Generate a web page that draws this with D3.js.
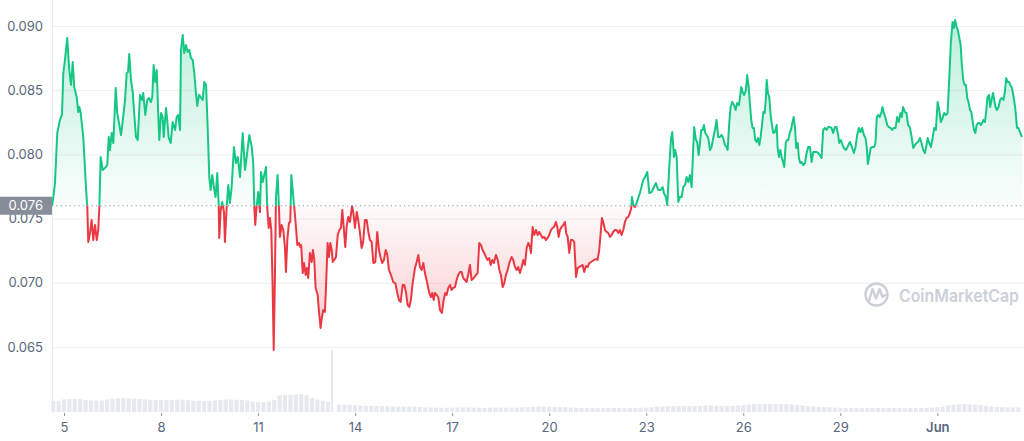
<!DOCTYPE html>
<html>
<head>
<meta charset="utf-8">
<script src="https://cdn.jsdelivr.net/npm/d3@7"></script>
<style>
  html, body { margin: 0; padding: 0; background: #ffffff; }
  svg { display: block; font-family: Inter, "Noto Sans", sans-serif; }
</style>
</head>
<body>
<svg id="chart" width="1024" height="441"></svg>
<script>
// ---------- DATA ----------
const startDate = "2022-05-05T00:00:00Z";      // hour 0 of the series
const basePrice = 0.076;                         // opening / reference price
const yTicks = [0.065, 0.070, 0.075, 0.080, 0.085, 0.090];
const xTickDates = ["2022-05-05","2022-05-08","2022-05-11","2022-05-14","2022-05-17","2022-05-20","2022-05-23","2022-05-26","2022-05-29","2022-06-01"];
const xTickLabels = ["5","8","11","14","17","20","23","26","29","Jun"];
const xDomainHours = [-8.9, 712.3];

// [hours since startDate, price in USD]
const pricePoints = [
[-8.9,0.07600],[-7.9,0.07668],[-6.7,0.07777],[-5.0,0.08167],[-3.0,0.08268],[-1.5,0.08307],[-0.5,0.08634],[0.7,0.08735],[2.4,0.08907],[3.9,0.08657],
[5.2,0.08541],[6.5,0.08720],[7.6,0.08525],[9.4,0.08447],[10.6,0.08330],[11.4,0.08369],[12.4,0.08322],[14.3,0.08136],[16.3,0.07746],[17.3,0.07583],
[18.0,0.07318],[19.3,0.07388],[20.5,0.07489],[21.7,0.07333],[23.0,0.07450],[24.3,0.07333],[25.4,0.07411],[26.2,0.07583],[27.2,0.07980],[28.7,0.07879],
[30.4,0.07894],[32.1,0.07917],[33.2,0.08136],[34.1,0.08034],[35.4,0.08167],[36.6,0.08089],[38.4,0.08517],[39.5,0.08322],[40.8,0.08245],[42.3,0.08151],
[43.5,0.08252],[45.3,0.08424],[46.5,0.08634],[47.5,0.08642],[48.4,0.08782],[49.7,0.08579],[51.0,0.08486],[51.9,0.08346],[53.4,0.08136],[54.7,0.08112],
[56.4,0.08463],[57.9,0.08424],[58.8,0.08478],[60.3,0.08307],[61.8,0.08424],[63.1,0.08439],[64.5,0.08408],[65.5,0.08447],[66.5,0.08696],[67.7,0.08564],
[68.8,0.08657],[70.0,0.08291],[70.7,0.08112],[72.0,0.08322],[73.2,0.08291],[74.0,0.08136],[75.7,0.08361],[76.6,0.08268],[77.7,0.08128],[79.2,0.08089],
[80.6,0.08252],[82.4,0.08190],[83.6,0.08291],[84.8,0.08307],[86.1,0.08190],[86.8,0.08813],[88.1,0.08930],[89.2,0.08790],[90.5,0.08852],[91.8,0.08798],
[93.0,0.08813],[94.2,0.08751],[95.5,0.08735],[96.7,0.08634],[97.9,0.08478],[98.9,0.08377],[100.2,0.08463],[101.4,0.08447],[102.9,0.08424],[104.1,0.08564],
[105.4,0.08541],[106.6,0.08213],[107.8,0.07824],[108.8,0.07723],[110.0,0.07840],[111.3,0.07738],[112.5,0.07668],[113.7,0.07855],[114.8,0.07606],[115.2,0.07349],
[116.3,0.07567],[117.4,0.07629],[118.7,0.07551],[119.4,0.07318],[120.7,0.07590],[121.9,0.07762],
[123.1,0.07622],[124.4,0.07746],[126.1,0.08058],[127.6,0.07933],[128.9,0.07980],[130.6,0.07824],[132.6,0.08167],[134.3,0.07879],[136.0,0.08019],[137.5,0.08151],
[139.3,0.08058],[140.4,0.07933],[141.2,0.07590],[141.9,0.07450],[142.9,0.07590],[144.1,0.07707],[145.4,0.07551],[146.2,0.07863],[147.4,0.07785],[148.6,0.07840],
[149.9,0.07902],[150.8,0.07583],[151.9,0.07427],[152.8,0.07505],[153.8,0.07411],[154.8,0.06967],[155.6,0.06477],[156.5,0.07045],[157.3,0.07668],[158.5,0.07840],
[159.5,0.07590],[160.2,0.07357],[161.5,0.07450],[162.7,0.07411],[163.9,0.07279],[164.7,0.07084],[165.7,0.07333],[166.9,0.07466],[167.9,0.07474],[168.7,0.07840],
[169.9,0.07699],[170.9,0.07583],[172.1,0.07435],[173.1,0.07294],[174.3,0.07310],[175.3,0.07279],[176.0,0.07294],[177.1,0.07076],[178.1,0.07154],[179.3,0.07061],
[180.3,0.07115],[181.2,0.07037],[182.5,0.07232],[183.8,0.07162],[184.7,0.07255],[185.7,0.07178],[186.7,0.06960],[188.2,0.06905],[189.2,0.06773],[190.4,0.06648],
[191.4,0.06734],[192.4,0.06788],[193.6,0.06773],[194.4,0.06967],[195.6,0.07310],[196.6,0.07201],[197.6,0.07310],[198.6,0.07255],[199.4,0.07162],[200.5,0.07178],
[201.8,0.07201],[203.1,0.07372],[204.3,0.07411],[205.5,0.07427],[206.5,0.07567],[207.7,0.07411],[208.7,0.07279],[209.7,0.07435],[210.9,0.07513],[212.2,0.07474],
[213.7,0.07598],[214.6,0.07551],[215.9,0.07427],[217.2,0.07551],[218.3,0.07489],[219.6,0.07388],[220.8,0.07271],[222.0,0.07318],[223.3,0.07489],[224.6,0.07489],
[225.8,0.07396],[227.0,0.07333],[228.3,0.07318],[229.5,0.07154],[231.0,0.07162],[232.4,0.07396],[233.7,0.07255],[235.0,0.07193],[236.1,0.07154],[237.4,0.07178],
[238.7,0.07255],[239.9,0.07217],[241.1,0.07100],[242.6,0.07061],[244.3,0.07006],[245.8,0.06998],[247.3,0.06921],[248.5,0.06866],[249.8,0.06851],[251.3,0.06983],
[252.5,0.06983],[253.7,0.06928],[255.0,0.06827],[256.2,0.06812],[257.4,0.06866],[258.7,0.06998],[260.4,0.07115],[261.7,0.07162],[262.9,0.07217],[264.1,0.07123],
[265.4,0.07100],[266.6,0.07154],[267.8,0.07076],[269.5,0.06998],[271.0,0.06921],[272.3,0.06889],[273.2,0.06921],[274.3,0.06866],[275.2,0.06921],[276.5,0.06905],
[277.7,0.06889],[279.0,0.06788],[280.4,0.06765],[281.7,0.06866],[282.9,0.06921],[283.9,0.06905],[285.1,0.06960],[286.4,0.06983],[287.6,0.06944],[288.8,0.06960],
[290.1,0.06967],[291.3,0.07022],[292.5,0.07061],[293.8,0.07084],[295.0,0.07084],[296.2,0.07037],[297.5,0.07022],[298.7,0.07006],[299.9,0.07061],
[301.2,0.07139],[302.4,0.07022],[304.1,0.07037],[305.6,0.07061],[306.9,0.07076],[308.1,0.07310],[309.4,0.07294],[310.6,0.07255],[311.8,0.07232],[313.1,0.07201],
[314.3,0.07178],[315.5,0.07193],[316.6,0.07139],[317.8,0.07178],[319.0,0.07154],[320.5,0.07217],[321.8,0.07178],[323.0,0.07100],[324.2,0.07061],[325.5,0.06967],
[326.7,0.06998],[327.9,0.07061],[329.2,0.07100],[330.4,0.07154],[332.1,0.07201],[333.3,0.07178],[334.6,0.07123],[335.9,0.07100],[337.0,0.07123],[338.3,0.07076],
[339.6,0.07123],[340.8,0.07178],[342.0,0.07139],[343.3,0.07271],[344.5,0.07310],[345.7,0.07279],[346.5,0.07232],[347.7,0.07435],[348.9,0.07372],[350.2,0.07411],
[351.4,0.07372],[352.6,0.07396],[353.9,0.07372],[355.1,0.07349],[356.3,0.07357],[357.6,0.07333],[358.8,0.07349],[360.0,0.07372],[361.3,0.07411],[362.5,0.07427],
[363.7,0.07435],[365.0,0.07474],[366.0,0.07435],[367.0,0.07357],[368.0,0.07411],[369.2,0.07435],[370.4,0.07450],[371.7,0.07474],[372.6,0.07388],[373.7,0.07357],
[374.9,0.07232],[376.1,0.07333],[377.4,0.07333],[378.6,0.07318],[379.9,0.07045],[381.1,0.07115],[382.3,0.07123],[383.6,0.07131],[384.8,0.07139],[386.0,0.07084],
[387.3,0.07131],[388.5,0.07123],[389.7,0.07154],[391.0,0.07162],[392.2,0.07170],[393.4,0.07178],[394.7,0.07185],[395.9,0.07178],[397.1,0.07255],[398.2,0.07388],
[399.1,0.07505],[400.1,0.07474],[401.4,0.07411],[402.6,0.07396],[403.8,0.07388],[405.1,0.07357],[406.3,0.07372],[407.5,0.07396],[408.8,0.07411],[410.0,0.07411],
[411.3,0.07388],[412.5,0.07411],[413.7,0.07372],[415.0,0.07411],[416.2,0.07474],[417.5,0.07505],[418.7,0.07513],[419.9,0.07544],[420.9,0.07583],[421.4,0.07668],
[422.4,0.07606],[423.6,0.07590],[424.9,0.07622],[426.1,0.07660],
[427.3,0.07699],[429.8,0.07801],[431.1,0.07824],[432.8,0.07863],[434.3,0.07699],[436.0,0.07707],[437.7,0.07746],[439.2,0.07777],[440.9,0.07723],[442.7,0.07723],
[444.2,0.07746],[445.1,0.07699],[446.6,0.07668],[447.6,0.07606],[449.1,0.07902],[450.3,0.08112],[451.3,0.08174],[452.6,0.07980],[453.5,0.08034],[454.6,0.07980],
[455.8,0.07629],[457.0,0.07668],[458.3,0.07668],[459.5,0.07746],[460.8,0.07762],[462.0,0.07824],[463.2,0.07785],[464.4,0.07840],[465.7,0.07746],[466.9,0.08058],
[467.6,0.08213],[468.9,0.08112],[469.8,0.08097],[470.9,0.07995],[471.9,0.08089],[472.8,0.08190],[473.9,0.08190],[474.8,0.08229],[475.8,0.08167],[476.8,0.08151],
[478.0,0.08128],[479.3,0.08034],[480.5,0.08058],[481.7,0.08128],[483.0,0.08190],[484.2,0.08268],[485.4,0.08136],[486.7,0.08136],[487.9,0.08151],[489.1,0.08128],
[490.4,0.08073],[491.6,0.08058],[492.4,0.08034],[493.6,0.08245],[494.6,0.08369],[495.8,0.08408],[497.1,0.08385],[498.3,0.08346],[499.5,0.08400],[500.8,0.08385],
[501.5,0.08439],[502.5,0.08525],[503.5,0.08486],[504.7,0.08463],[506.0,0.08502],[506.9,0.08618],[508.0,0.08525],[508.9,0.08400],[509.9,0.08268],[510.9,0.08206],
[511.9,0.08206],[512.9,0.08112],[513.9,0.08097],[514.9,0.08128],[515.9,0.08073],[516.9,0.08136],[517.9,0.08229],[518.9,0.08330],[519.9,0.08322],[520.8,0.08439],
[521.4,0.08579],[522.3,0.08478],[523.3,0.08447],[524.3,0.08307],[525.3,0.08229],[526.3,0.08167],[527.5,0.08174],[528.8,0.08229],[529.5,0.08050],[530.5,0.07980],
[531.5,0.08034],[532.5,0.07980],[533.5,0.07941],[534.4,0.07902],[535.5,0.08089],[536.4,0.08112],[537.4,0.08112],[538.4,0.08167],[539.4,0.08190],[540.4,0.08245],
[541.4,0.08291],[542.4,0.08206],[543.3,0.08050],[544.4,0.08089],[545.3,0.07972],[546.3,0.07933],[547.3,0.07941],[548.5,0.07917],[549.8,0.07933],[551.0,0.08011],
[552.2,0.08058],[553.5,0.08058],[554.7,0.07941],[555.9,0.08019],[557.2,0.08019],[558.4,0.08019],[559.6,0.08011],[560.9,0.07995],[562.1,0.07972],[563.3,0.08190],
[564.6,0.08206],[565.8,0.08190],[567.0,0.08213],
[568.3,0.08213],[569.5,0.08206],[570.7,0.08167],[572.0,0.08213],[573.2,0.08213],[574.4,0.08151],[575.2,0.08089],[576.4,0.08112],[577.7,0.08073],[578.6,0.08050],
[580.1,0.08034],[581.4,0.08058],[583.1,0.08097],[584.6,0.08058],[586.1,0.08011],[587.3,0.08058],[588.5,0.08151],[589.8,0.08206],[591.0,0.08174],[592.2,0.08206],
[593.5,0.08151],[594.7,0.08128],[595.7,0.08050],[596.4,0.07925],[597.4,0.07980],[598.6,0.08050],[599.9,0.08058],[601.1,0.08058],[602.1,0.08089],[603.1,0.08291],
[604.1,0.08307],[605.3,0.08291],[606.6,0.08330],[607.3,0.08369],[608.3,0.08322],[609.6,0.08283],[610.8,0.08229],[612.0,0.08213],[613.3,0.08206],[614.5,0.08190],
[615.7,0.08206],[617.0,0.08206],[618.2,0.08291],[619.4,0.08252],[620.7,0.08322],[621.6,0.08291],[622.6,0.08369],[623.9,0.08330],[625.1,0.08322],[626.3,0.08229],
[627.6,0.08213],[628.9,0.08136],[630.1,0.08050],[631.4,0.08073],[632.6,0.08089],[633.8,0.08097],[635.1,0.08128],[636.3,0.08089],[637.5,0.08034],[638.8,0.08011],
[640.0,0.08073],[640.8,0.08128],[642.0,0.08089],[643.2,0.08058],[644.5,0.08128],[645.7,0.08206],[646.9,0.08190],[648.2,0.08408],[649.4,0.08346],[650.6,0.08252],
[651.9,0.08283],[653.1,0.08322],[654.3,0.08307],[655.6,0.08322],[656.8,0.08579],[658.0,0.08868],[659.3,0.09031],[660.2,0.08984],[661.2,0.09047],[662.3,0.08992],
[663.2,0.08969],[664.2,0.08914],[665.3,0.08852],[666.2,0.08696],[667.2,0.08579],[668.3,0.08541],[669.2,0.08541],[670.2,0.08439],[671.3,0.08400],[672.2,0.08346],
[673.2,0.08330],[674.3,0.08252],[675.2,0.08190],[676.2,0.08167],[677.2,0.08229],[678.2,0.08245],[679.2,0.08245],[680.3,0.08229],[681.2,0.08245],[682.2,0.08268],
[683.3,0.08252],[684.2,0.08330],[685.2,0.08447],[686.3,0.08463],[687.2,0.08369],[688.2,0.08424],[689.3,0.08478],[690.2,0.08424],[691.2,0.08369],[692.2,0.08346],
[693.4,0.08369],[694.6,0.08424],[695.9,0.08439],[697.1,0.08424],[698.1,0.08486],[699.1,0.08595],[700.1,0.08564],[701.2,0.08564],[702.1,0.08541],[703.4,0.08517],
[704.6,0.08447],[705.8,0.08361],[707.1,0.08206],[708.2,0.08206],[709.5,0.08167],[710.8,0.08136]
];

// 4-hour volume bars (USD millions), first bar at hour -8
const volumeStartHour = -8;
const volumeStepHours = 4;
const volumes = [
5.4,5.6,
6.3,6.5,6.6,6.4,6.0,
5.8,5.7,5.8,6.2,6.6,6.9,
7.0,6.9,6.7,
6.5,6.3,6.1,6.0,6.0,6.1,
6.0,6.2,6.1,5.9,5.7,
5.6,5.5,5.6,5.8,6.0,
6.2,6.3,6.1,6.0,5.8,
5.2,5.0,4.9,5.2,
6.0,8.3,8.5,8.6,8.7,9.0,8.4,
7.0,6.2,5.6,5.0,
31,
3.8,3.6,3.5,3.4,3.2,3.1,3.0,3.0,
2.9,2.9,2.8,2.8,2.7,2.7,2.6,2.5,
2.3,2.2,2.2,2.1,2.1,2.2,2.2,2.3,2.3,2.2,2.1,2.1,2.2,2.2,2.3,2.2,2.1,2.2,2.3,2.4,
2.6,2.7,2.7,2.6,2.6,2.5,2.4,2.3,
2.1,2.0,2.0,2.0,1.9,1.9,2.0,2.0,2.0,1.9,1.9,2.0,2.1,2.2,2.4,
2.7,2.8,2.9,2.9,3.0,3.0,2.9,3.0,3.1,3.2,3.3,3.2,3.1,3.0,3.0,3.2,3.4,
3.7,3.9,4.0,4.1,4.1,4.0,4.0,3.9,3.8,3.6,3.3,3.0,
2.8,2.6,2.5,2.4,2.2,
2.1,2.0,2.0,2.0,1.9,1.9,2.0,2.0,2.0,2.1,2.0,1.9,1.9,2.0,2.0,2.0,2.1,2.2,2.4,2.7,
3.3,3.7,3.9,3.9,3.8,3.7,3.5,3.1,
2.7,2.5,2.4,2.3,2.3,2.3
];

// ---------- CHART ----------
const W = 1024, H = 441;
const svg = d3.select("#chart");
const t0 = new Date(startDate).getTime();
const hourToDate = h => new Date(t0 + h * 3600e3);

const x = d3.scaleUtc()
  .domain(xDomainHours.map(hourToDate))
  .range([52, 1024]);
const y = d3.scaleLinear().domain([0.065, 0.090]).range([347, 26]);
const yVol = d3.scaleLinear().domain([0, 31]).range([412, 350]);

const GREEN = "#16c784", RED = "#ea3943";
const baseY = y(basePrice);

const defs = svg.append("defs");
const gG = defs.append("linearGradient").attr("id","gGreen").attr("gradientUnits","userSpaceOnUse")
  .attr("x1",0).attr("x2",0).attr("y1",y(0.090)).attr("y2",baseY);
gG.append("stop").attr("offset",0).attr("stop-color",GREEN).attr("stop-opacity",0.28);
gG.append("stop").attr("offset",1).attr("stop-color",GREEN).attr("stop-opacity",0.02);
const gR = defs.append("linearGradient").attr("id","gRed").attr("gradientUnits","userSpaceOnUse")
  .attr("x1",0).attr("x2",0).attr("y1",baseY).attr("y2",y(0.065));
gR.append("stop").attr("offset",0).attr("stop-color",RED).attr("stop-opacity",0.02);
gR.append("stop").attr("offset",1).attr("stop-color",RED).attr("stop-opacity",0.28);

defs.append("clipPath").attr("id","clipUp").append("rect")
  .attr("x",0).attr("y",0).attr("width",W).attr("height",baseY);
defs.append("clipPath").attr("id","clipDown").append("rect")
  .attr("x",0).attr("y",baseY).attr("width",W).attr("height",H-baseY);

// grid lines
const grid = svg.append("g").attr("transform","translate(52,0)")
  .call(d3.axisLeft(y).tickValues(yTicks).tickSize(-(W-52)).tickFormat(""));
grid.select(".domain").remove();
grid.selectAll("line").attr("stroke","#eceff3").attr("stroke-width",1);

// left border
svg.append("line").attr("x1",52.5).attr("x2",52.5).attr("y1",0).attr("y2",413)
  .attr("stroke","#e6e9ee").attr("stroke-width",1);

// watermark
const wm = svg.append("g").attr("fill","none").attr("stroke","#cbd0d8");
wm.append("circle").attr("cx",876.5).attr("cy",294.5).attr("r",11).attr("stroke-width",2.4);
wm.append("path").attr("d","M869,301 L872.5,289 L876,298.5 L879.5,289 L882.5,297 L885,295")
  .attr("stroke-width",2.4).attr("stroke-linejoin","round").attr("stroke-linecap","round");
svg.append("text").attr("x",899).attr("y",301.5).attr("font-size",17.5).attr("font-weight",600)
  .attr("fill","#cbd0d8").attr("textLength",120).attr("lengthAdjust","spacingAndGlyphs")
  .text("CoinMarketCap");

// volume bars
const volStepPx = x(hourToDate(volumeStepHours)) - x(hourToDate(0));
svg.append("g").selectAll("rect").data(volumes).join("rect")
  .attr("x", (v,i) => x(hourToDate(volumeStartHour + i*volumeStepHours)) - (volStepPx-1.2)/2)
  .attr("width", (v) => v > 20 ? 1.3 : volStepPx - 1.2)
  .attr("y", v => yVol(v))
  .attr("height", v => yVol(0) - yVol(v))
  .attr("fill", v => v > 20 ? "#dcdfe5" : "#e6e9ee");

// price area + line
const area = d3.area().x(d => x(hourToDate(d[0]))).y0(baseY).y1(d => y(d[1]));
const line = d3.line().x(d => x(hourToDate(d[0]))).y(d => y(d[1]));
svg.append("path").datum(pricePoints).attr("d",area).attr("fill","url(#gGreen)").attr("clip-path","url(#clipUp)");
svg.append("path").datum(pricePoints).attr("d",area).attr("fill","url(#gRed)").attr("clip-path","url(#clipDown)");

// baseline dotted
svg.append("line").attr("x1",52).attr("x2",W).attr("y1",baseY).attr("y2",baseY)
  .attr("stroke","#8f96a3").attr("stroke-width",1.1).attr("stroke-dasharray","1.2 3.2");

svg.append("path").datum(pricePoints).attr("d",line).attr("fill","none").attr("stroke",GREEN)
  .attr("stroke-width",2).attr("stroke-linejoin","round").attr("clip-path","url(#clipUp)");
svg.append("path").datum(pricePoints).attr("d",line).attr("fill","none").attr("stroke",RED)
  .attr("stroke-width",2).attr("stroke-linejoin","round").attr("clip-path","url(#clipDown)");

// y axis labels
const yAx = svg.append("g").attr("transform","translate(52,0)")
  .call(d3.axisLeft(y).tickValues(yTicks).tickSize(0).tickPadding(9).tickFormat(d3.format(".3f")));
yAx.select(".domain").remove();
yAx.selectAll("text").attr("font-size",13).attr("fill","#58667e").attr("font-family","Inter, sans-serif");

// reference price badge
svg.append("rect").attr("x",0).attr("y",baseY-9).attr("width",52).attr("height",18).attr("fill","#878d99");
svg.append("text").attr("x",43).attr("y",baseY).attr("dy","0.35em").attr("text-anchor","end")
  .attr("font-size",13).attr("fill","#ffffff").text(d3.format(".3f")(basePrice));

// x axis
const xAx = svg.append("g").attr("transform","translate(0,413)")
  .call(d3.axisBottom(x).tickValues(xTickDates.map(s => new Date(s + "T00:00:00Z")))
    .tickSize(3).tickPadding(7).tickFormat((d,i) => xTickLabels[i]));
xAx.select(".domain").remove();
xAx.selectAll("line").attr("stroke","#8f96a3");
xAx.selectAll("text").attr("font-size",13).attr("fill","#58667e").attr("font-family","Inter, sans-serif")
  .attr("font-weight",(d,i) => xTickLabels[i] === "Jun" ? 600 : 400);
</script>
</body>
</html>
